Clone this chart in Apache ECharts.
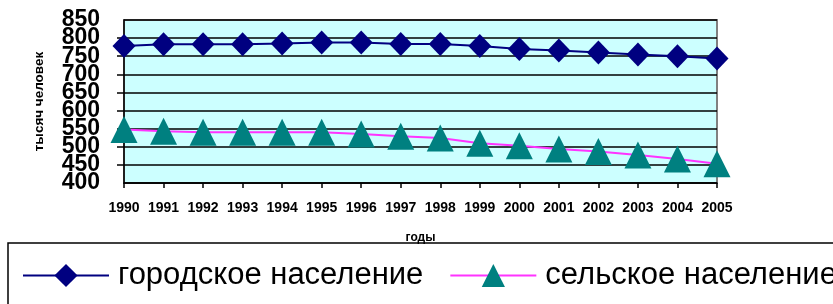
<!DOCTYPE html>
<html>
<head>
<meta charset="utf-8">
<script src="https://cdn.jsdelivr.net/npm/echarts@6/dist/echarts.min.js"></script>
<style>
html, body { margin: 0; padding: 0; background: #fff; }
#chart { width: 833px; height: 304px; }
</style>
</head>
<body>
<div id="chart"></div>
<script>
// годы
const years = ['1990', '1991', '1992', '1993', '1994', '1995', '1996', '1997',
    '1998', '1999', '2000', '2001', '2002', '2003', '2004', '2005'];
// тысяч человек
const urban = [778, 783, 783, 783, 785, 788, 788, 784, 784, 778, 770, 766, 760, 755, 750, 744];
const rural = [548, 543, 540, 540, 540, 540, 535, 529, 524, 510, 503, 494, 487, 477, 466, 453];
// шкала
const yMin = 400;
const yMax = 850;
const yStep = 50;

const urbanName = 'городское население';
const ruralName = 'сельское население';

const myChart = echarts.init(document.getElementById('chart'));

const yLabelStyle = {
    margin: 24,
    fontFamily: '"Liberation Sans", Arial, sans-serif',
    fontWeight: 'bold',
    fontSize: 23,
    color: '#000'
};

const option = {
    animation: false,
    backgroundColor: '#fff',
    grid: {
        left: 124,
        right: 116,
        top: 20,
        bottom: 121,
        show: true,
        backgroundColor: '#ccffff',
        borderColor: '#808080',
        borderWidth: 2
    },
    legend: {
        left: 8,
        top: 243,
        width: 1200,
        padding: [17, 14, 24, 14],
        borderColor: '#000',
        borderWidth: 1.5,
        itemWidth: 86,
        itemHeight: 29,
        itemGap: 26,
        textStyle: {
            fontFamily: '"Liberation Sans", Arial, sans-serif',
            fontSize: 31,
            color: '#000',
            padding: [0, 0, 0, 4]
        },
        data: [urbanName, ruralName]
    },
    xAxis: {
        type: 'category',
        data: years,
        boundaryGap: false,
        name: 'годы',
        nameLocation: 'middle',
        nameGap: 49,
        nameTextStyle: {
            fontFamily: '"Liberation Sans", Arial, sans-serif',
            fontWeight: 'bold',
            fontSize: 12,
            color: '#000'
        },
        axisLine: { lineStyle: { color: '#000', width: 1.5 } },
        axisTick: { alignWithLabel: true, interval: 0, length: 5, lineStyle: { color: '#000', width: 1.5 } },
        axisLabel: {
            interval: 0,
            margin: 18,
            fontFamily: '"Liberation Sans", Arial, sans-serif',
            fontWeight: 'bold',
            fontSize: 14,
            color: '#000'
        }
    },
    yAxis: [
        {
            type: 'value',
            min: yMin,
            max: yMax,
            interval: yStep,
            name: 'тысяч человек',
            nameLocation: 'middle',
            nameRotate: 90,
            nameGap: 78,
            nameTextStyle: {
                fontFamily: '"Liberation Sans", Arial, sans-serif',
                fontWeight: 'bold',
                fontSize: 13.5,
                color: '#000'
            },
            axisLine: { show: true, lineStyle: { color: '#000', width: 1.5 } },
            axisTick: { show: true, length: 7, lineStyle: { color: '#000', width: 1.5 } },
            axisLabel: Object.assign({ showMinLabel: false, showMaxLabel: false }, yLabelStyle),
            splitLine: { lineStyle: { color: '#000', width: 1.5 } }
        },
        {
            // только подписи 400 и 850
            type: 'value',
            position: 'left',
            min: yMin,
            max: yMax,
            interval: yMax - yMin,
            axisLine: { show: false },
            axisTick: { show: false },
            splitLine: { show: false },
            axisLabel: yLabelStyle
        }
    ],
    series: [
        {
            name: urbanName,
            type: 'line',
            data: urban,
            color: '#000080',
            symbol: 'diamond',
            symbolSize: [23, 24],
            showAllSymbol: true,
            lineStyle: { color: '#000080', width: 2 },
            itemStyle: { color: '#000080' }
        },
        {
            name: ruralName,
            type: 'line',
            data: rural,
            color: '#ff33ff',
            symbol: 'triangle',
            symbolSize: 27,
            showAllSymbol: true,
            lineStyle: { color: '#ff33ff', width: 2 },
            itemStyle: { color: '#008080' }
        }
    ]
};

myChart.setOption(option);

window.addEventListener('resize', () => {
    myChart.resize();
});
</script>
</body>
</html>
